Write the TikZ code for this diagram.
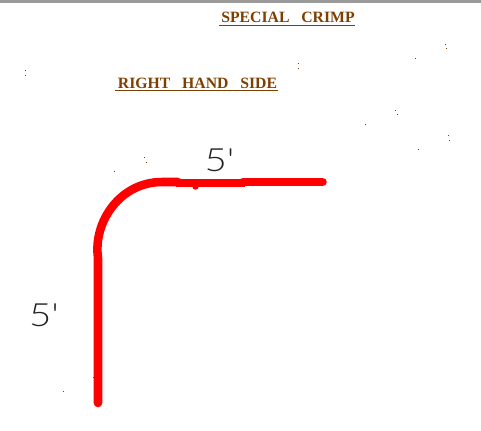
\documentclass[tikz,border=0pt]{standalone}
\usepackage{fontspec}
\setmainfont{Liberation Serif}
\newfontfamily\dimfont[UprightFont=* Light]{Lato}
\definecolor{titlebrown}{HTML}{7F3F00}
\definecolor{crimpred}{HTML}{FF0000}
\definecolor{dimink}{HTML}{222222}
\definecolor{barcol}{HTML}{9A9A9A}
\tikzset{
  titletext/.style={text=titlebrown,inner sep=0pt,font=\bfseries\fontsize{11.8pt}{13pt}\selectfont},
  titleline/.style={draw=titlebrown,line width=0.9pt},
  dimtext/.style={text=dimink,inner sep=0pt,font=\dimfont\fontsize{24pt}{26pt}\selectfont,xscale=1.2},
  crimp/.style={draw=crimpred,line width=6.4pt,line cap=round,line join=round},
  speck/.style={fill=titlebrown}
}
\begin{document}
\begin{tikzpicture}[x=0.75pt,y=-0.75pt]
\useasboundingbox (0,0) rectangle (481,430);
\fill[white] (0,0) rectangle (481,430);
\fill[barcol] (0,0) rectangle (481,3);
\node[titletext,anchor=center] (t1) at (288,17.5) {SPECIAL\hspace{0.75em}CRIMP};
\node[titletext,anchor=center] (t2) at (197.5,83.5) {RIGHT\hspace{0.75em}HAND\hspace{0.75em}SIDE};
\draw[titleline] (219,25.5) -- (355,25.5);
\draw[titleline] (115,90.5) -- (278,90.5);
\node[dimtext] (d1) at (219.5,160) {5'};
\node[dimtext] (d2) at (44,315) {5'};
\draw[crimp] (98,403) -- (98,258)
  .. controls (93,222) and (120,182) .. (162,182) -- (178,182);
\draw[crimp,line cap=butt] (176,183) -- (245,183);
\draw[crimp] (243,182) -- (322.5,182);
\fill[crimpred] (195.5,186.5) circle (3.2);
\foreach \x/\y in {445/44,446/48,415/58,395/110,397/114,365/124,448/135,449/140,418/149,298/63,298/68,144/157,146/162,114/171,63/391,93/377,25/70,25/75}
  \fill[speck] (\x,\y) rectangle +(1,1);
\end{tikzpicture}
\end{document}
